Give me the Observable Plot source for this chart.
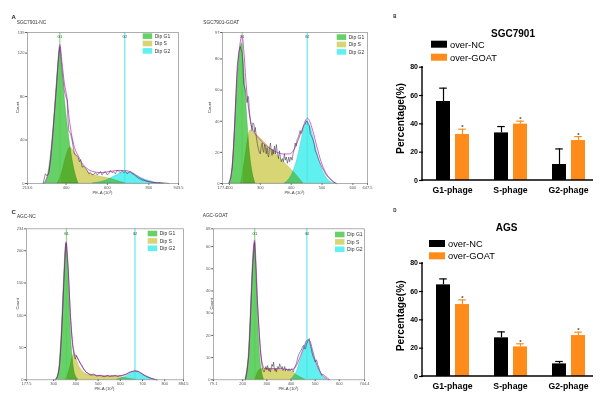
<!DOCTYPE html>
<html><head><meta charset="utf-8">
<script src="https://cdn.jsdelivr.net/npm/d3@7"></script>
<script src="https://cdn.jsdelivr.net/npm/@observablehq/plot@0.6"></script>
<style>
html,body{margin:0;padding:0;background:#fff;}
#fig{position:relative;width:603px;height:396px;overflow:hidden;background:#fff;}
</style></head>
<body><div id="fig"></div>
<script>
// ---------- DATA ----------
const legendLabels = ["Dip G1", "Dip S", "Dip G2"];
const markerLabels = ["G1", "G2"];

// Panel A: SGC7901-NC
const aXTicks = [213.6, 400, 600, 800, 943.5];
const aYTicks = [0, 40, 80, 120, 139];
const aMarkers = [370, 684];
const aHist = [[289,0],[300,9],[308,7],[317,10],[325,22],[333,40],[341,58],[349,77],[355,92],[360,107],[365,118],[370,126],[374,120],[378,110],[382,102],[386,95],[391,86],[397,81],[401,79],[405,77],[409,60],[413,49],[417,47],[421,46],[425,43],[429,40],[435,33],[441,27],[449,26],[457,25],[465,20],[471,22],[478,15],[486,16],[494,14],[502,12],[510,9],[518,10],[526,8],[534,8.5],[542,10],[550,8],[558,9],[566,11],[574,8],[582,10],[590,11],[598,8],[606,9],[614,12],[622,10],[630,10.8],[638,9],[646,12],[654,11.5],[662,10],[670,12],[679,10],[687,11],[695,9],[703,10],[711,11],[719,9],[727,8.6],[735,7],[743,6],[751,4.6],[760,4],[767,3],[775,3],[790,2],[807,1.5],[820,1],[840,0.6],[855,1],[872,0.6],[897,0]];
const aFit = [[290,0],[305,4],[320,14],[335,42],[350,82],[360,108],[370,128],[380,112],[392,92],[405,78],[415,60],[425,47],[441,33],[460,25],[480,18],[500,14],[530,11],[570,10],[610,11],[650,12],[684,12],[720,10],[750,6],[780,3],[820,1],[870,0]];
const aG1 = [[298,0],[315,10],[333,38],[349,76],[360,104],[370,124],[380,106],[392,82],[405,58],[421,34],[441,12],[460,0]];
const aS = [[360,0],[380,9],[400,24],[421,33],[440,29],[460,23],[480,17],[510,10],[540,7.5],[570,6],[600,5],[630,3.5],[660,1.5],[690,0]];
const aG2 = [[530,0],[560,1],[590,2.5],[620,5],[650,8],[684,10.5],[710,10],[740,7.5],[770,4.5],[800,2.5],[830,1],[860,0]];

// Panel A': SGC7901-GOAT
const apXTicks = [177.4, 200, 300, 400, 500, 600, 647.5];
const apYTicks = [0, 20, 40, 60, 80, 97];
const apMarkers = [241, 452];
const apHist = [[198,0],[204,4],[209,10],[213,22],[217,40],[221,58],[225,75],[230,84],[235,88],[238,86],[241,84],[244,75],[246,64],[249,62],[252,60],[255,54],[257,52],[260,56],[262,55],[264,48],[266,44],[270,38],[273,34],[276,39],[279,38],[282,33],[284,36],[287,30],[290,26],[294,22],[297,20],[300,19],[303,24],[306,26],[309,21],[311,20],[314,25],[316,24],[319,19],[322,23],[325,18],[327,17],[330,23],[333,26],[336,20],[338,18],[341,22],[343,19],[346,24],[349,19],[352,25],[355,20],[359,16],[362,21],[365,17],[368,14],[372,16],[375,14],[378,19],[381,15],[384,17],[388,13],[392,17],[395,14],[399,17],[403,15],[406,19],[410,22],[413,26],[416,24],[419,28],[424,30],[429,34],[432,32],[435,33],[440,37],[445,38],[449,40],[452,40],[455,38],[459,37],[462,32],[467,30],[471,28],[475,25],[478,21],[483,19],[488,16],[492,14],[496,12],[501,10],[507,8],[512,6],[516,5],[521,4],[526,3],[531,2],[537,1],[548,0]];
const apFit = [[198,0],[206,6],[215,30],[225,70],[233,88],[241,95],[247,84],[254,64],[262,48],[270,38],[280,33],[295,29],[315,25],[335,22],[355,20],[375,19],[395,19],[410,22],[425,29],[438,36],[448,41],[453,42],[460,40],[470,34],[483,24],[497,14],[512,7],[527,3],[545,0]];
const apG1 = [[200,0],[208,6],[215,24],[222,50],[230,75],[237,88],[241,90],[246,80],[252,60],[259,38],[266,20],[274,8],[284,0]];
const apS = [[238,0],[250,14],[260,28],[268,34],[280,33],[295,30],[315,26],[335,22],[355,18],[375,14],[395,10],[410,7],[425,3.5],[440,0]];
const apG2 = [[380,0],[395,3],[410,9],[422,17],[432,26],[442,35],[452,40],[462,37],[472,30],[483,21],[495,12],[508,6],[522,2],[540,0]];

// Panel C: AGC-NC
const cXTicks = [177.5, 300, 400, 500, 600, 700, 800, 884.5];
const cYTicks = [0, 50, 100, 150, 200, 234];
const cMarkers = [357, 666];
const cHist = [[308,0],[316,5],[322,12],[327,25],[330,40],[334,62],[338,89],[343,128],[348,166],[352,195],[356,212],[360,196],[365,171],[370,135],[375,99],[380,74],[385,53],[391,40],[397,32],[402,38],[405,36],[407,34],[411,31],[414,30],[418,27],[420,26],[424,24],[428,22],[431,20],[435,17],[440,15],[445,12],[451,11],[457,9],[463,8],[470,7],[477,9],[485,8],[492,6],[500,6],[507,7],[515,7],[522,5],[530,5],[537,6],[545,7],[552,5],[560,6],[567,6],[575,7],[582,6],[590,5],[597,6],[605,6],[613,7],[621,8],[628,9],[636,11],[644,12],[651,13],[658,13],[665,14],[674,13],[680,13],[685,12],[690,11],[696,10],[702,8],[708,7],[714,6],[719,5],[727,4],[735,3],[742,2],[749,1],[764,0]];
const cFit = [[308,0],[318,6],[326,22],[335,68],[345,150],[356,214],[365,175],[375,104],[385,58],[395,40],[405,35],[420,25],[440,14],[460,9],[490,7],[530,6],[570,6],[610,7],[635,10],[655,13],[670,14],[690,11],[710,7],[730,3.5],[750,1],[765,0]];
const cG1 = [[310,0],[318,5],[326,22],[334,62],[342,120],[349,175],[356,210],[362,188],[369,135],[376,82],[384,40],[392,15],[402,4],[412,0]];
const cS = [[355,0],[365,8],[375,20],[385,34],[393,40],[402,33],[412,23],[425,15],[440,10],[460,7],[490,6],[530,5],[570,5],[600,4],[625,2.5],[650,1],[670,0]];
const cG2 = [[585,0],[600,1.5],[615,3.5],[630,6],[645,9],[660,11.5],[670,12],[682,11],[695,8.5],[710,5.5],[725,3],[740,1.5],[760,0]];

// Panel C': AGC-GOAT
const cpXTicks = [79.1, 200, 300, 400, 500, 600, 704.4];
const cpYTicks = [0, 10, 20, 30, 40, 50, 60, 68];
const cpMarkers = [250, 466];
const cpHist = [[211,0],[218,4],[225,11],[230,22],[236,38],[242,52],[249,62],[254,52],[259,38],[264,29],[269,20],[274,12],[280,6.4],[285,4],[289,3.5],[293,5],[296,6],[300,4.5],[303,6.4],[308,4],[311,5],[314,3.5],[318,5],[321,7],[325,6],[328,8],[331,5],[334,4],[337,5],[339,3.5],[343,5],[346,6],[350,5],[353,7.2],[357,6],[360,5],[364,6],[367,4.2],[371,5],[374,6],[377,4],[380,5],[384,4.5],[388,4],[392,5],[396,4],[400,4.5],[403,5],[406,4],[410,3.5],[413,5],[417,6],[421,7],[424,8],[428,10],[431,11],[435,12],[438,12.6],[441,13],[445,14],[448,15],[452,15.5],[456,14],[460,14],[464,16],[468,17],[472,18],[476,18.6],[479,16],[481,15],[484,14],[486,12.6],[490,11],[493,10],[497,9],[500,8],[503,8.5],[506,9],[510,7],[513,6.4],[517,5],[520,4],[524,3],[527,2],[532,2.5],[537,2],[542,1.5],[548,1.2],[554,0.5],[561,0]];
const cpFit = [[211,0],[218,4],[225,12],[232,28],[240,50],[249,63],[256,50],[262,34],[268,22],[275,12],[282,7],[292,5],[320,5],[360,5],[395,4.5],[412,5],[425,7],[440,11],[455,15],[468,18],[478,17.5],[490,13],[503,8],[518,4],[535,1.5],[555,0]];
const cpG1 = [[211,0],[218,4],[225,11],[231,24],[237,40],[243,54],[249,61],[254,54],[259,40],[265,24],[271,12],[278,5],[288,0]];
const cpS = [[252,0],[262,3],[272,4.5],[290,5],[320,5],[350,4.5],[380,4],[405,3.5],[425,2],[445,0.8],[460,0]];
const cpG2 = [[400,0],[412,1.5],[425,4],[437,8],[448,12],[458,15.5],[468,17.5],[478,17],[488,14],[498,10],[510,6],[522,3],[535,1],[550,0]];

// Bar charts
const phases = ["G1-phage", "S-phage", "G2-phage"];
const groups = ["over-NC", "over-GOAT"];
const barYTicks = [0, 20, 40, 60, 80];
const sgcNC = [55.8, 33.6, 11.3];
const sgcNCsd = [9.4, 4.5, 11];
const sgcGOAT = [32.5, 39.8, 28.2];
const sgcGOATsd = [3.7, 2.1, 2.8];
const agsNC = [64.7, 27.3, 8.9];
const agsNCsd = [4.2, 4.2, 1.7];
const agsGOAT = [50.8, 20.9, 28.9];
const agsGOATsd = [3.3, 2.2, 2.4];

// ---------- DRAWING ----------
const FONT = '"Liberation Sans", Arial, Helvetica, sans-serif';
const COL = {g1: "#66d166", s: "#d8d574", g2: "#60f0f0", hist: "#3b2f4a", fit: "#c83cc8", frame: "#8c8c8c", nc: "#000000", goat: "#ff8c1a"};
const fig = document.getElementById("fig");
function place(svg, left, top) {
  svg.style.position = "absolute";
  svg.style.left = left + "px";
  svg.style.top = top + "px";
  svg.style.maxWidth = "none";
  fig.appendChild(svg);
}

function histPanel(cfg) {
  const P = a => a.map(([x, y]) => ({x, y}));
  const area = (d, fill, stroke) => Plot.areaY(P(d), {x: "x", y: "y", fill, stroke, strokeWidth: 0.4, mixBlendMode: "multiply", curve: "monotone-x"});
  const [mt, mr, mb, ml] = cfg.m;
  const svg = Plot.plot({
    width: cfg.w, height: cfg.h,
    marginTop: mt, marginRight: mr, marginBottom: mb, marginLeft: ml,
    style: {fontFamily: FONT, fontSize: "4px", color: "#555", background: "transparent", overflow: "visible"},
    x: {domain: cfg.xDomain, ticks: cfg.xTicks, tickFormat: d => String(d), tickSize: 1.8, tickPadding: 1, label: null},
    y: {domain: [0, cfg.yTop], ticks: cfg.yTicks, tickFormat: d => String(d), tickSize: 1.8, tickPadding: 1.2, label: null},
    marks: [
      area(cfg.s, COL.s, "#b5b14e"),
      area(cfg.g2, COL.g2, "#3cc6c6"),
      area(cfg.g1, COL.g1, "#3f9c3f"),
      Plot.ruleX([cfg.markers[0]], {stroke: "#52d052", strokeWidth: 0.8}),
      Plot.ruleX([cfg.markers[1]], {stroke: "#45e6e6", strokeWidth: 1}),
      Plot.text(cfg.markers, {x: d => d, text: (d, i) => markerLabels[i], frameAnchor: "top", dy: 3.5, fontSize: 3.4, fill: "#333"}),
      Plot.lineY(P(cfg.fit), {x: "x", y: "y", stroke: COL.fit, strokeWidth: 0.8, curve: "monotone-x"}),
      Plot.lineY(P(cfg.hist), {x: "x", y: "y", stroke: COL.hist, strokeWidth: 0.55}),
      Plot.frame({stroke: COL.frame, strokeWidth: 0.7})
    ]
  });
  const g = d3.select(svg).append("g").attr("font-family", FONT).attr("text-anchor", "start");
  const fl = ml, fr = cfg.w - mr, ft = mt, fb = cfg.h - mb;
  legendLabels.forEach((lab, i) => {
    const y = ft + cfg.lgDy + i * 7.4;
    g.append("rect").attr("x", fr - cfg.lgDx).attr("y", y).attr("width", 9.5).attr("height", 5.6).attr("fill", [COL.g1, COL.s, COL.g2][i]);
    g.append("text").attr("x", fr - cfg.lgDx + 12).attr("y", y + 4.4).attr("font-size", 5).attr("fill", "#333").text(lab);
  });
  g.append("text").attr("transform", `translate(${cfg.countX},${(ft + fb) / 2}) rotate(-90)`)
    .attr("text-anchor", "middle").attr("font-size", 4.3).attr("fill", "#444").text("Count");
  g.append("text").attr("x", (fl + fr) / 2).attr("y", fb + 10.8)
    .attr("text-anchor", "middle").attr("font-size", 4.3).attr("fill", "#444").text("PE-A (10³)");
  if (cfg.letter) g.append("text").attr("x", cfg.letterX).attr("y", cfg.letterY).attr("font-size", 6).attr("font-weight", "bold").attr("fill", "#222").text(cfg.letter);
  g.append("text").attr("x", cfg.titleX).attr("y", cfg.titleY).attr("font-size", 4.8).attr("fill", "#333").text(cfg.title);
  place(svg, cfg.left, cfg.top);
}

histPanel({left: 0, top: 0, w: 190, h: 196, m: [32, 12, 13, 27], xDomain: [213.6, 943.5], xTicks: aXTicks, yTop: 139, yTicks: aYTicks,
  hist: aHist, fit: aFit, g1: aG1, s: aS, g2: aG2, markers: aMarkers, lgDx: 35.3, lgDy: 1.3, countX: 18.8,
  letter: "A", letterX: 11.5, letterY: 18.5, title: "SGC7901-NC", titleX: 16.7, titleY: 23.5});
histPanel({left: 190, top: 0, w: 190, h: 196, m: [32, 13, 13, 32], xDomain: [177.4, 647.5], xTicks: apXTicks, yTop: 97, yTicks: apYTicks,
  hist: apHist, fit: apFit, g1: apG1, s: apS, g2: apG2, markers: apMarkers, lgDx: 30.3, lgDy: 2.3, countX: 20.8,
  title: "SGC7901-GOAT", titleX: 13.3, titleY: 24});
histPanel({left: 0, top: 196, w: 190, h: 200, m: [32.3, 7, 16.7, 26], xDomain: [177.5, 884.5], xTicks: cXTicks, yTop: 234, yTicks: cYTicks,
  hist: cHist, fit: cFit, g1: cG1, s: cS, g2: cG2, markers: cMarkers, lgDx: 35.3, lgDy: 2.4, countX: 18.8,
  letter: "C", letterX: 11.5, letterY: 18.3, title: "AGC-NC", titleX: 16.9, titleY: 21.7});
histPanel({left: 190, top: 196, w: 190, h: 200, m: [32.3, 16, 16.7, 23], xDomain: [79.1, 704.4], xTicks: cpXTicks, yTop: 68, yTicks: cpYTicks,
  hist: cpHist, fit: cpFit, g1: cpG1, s: cpS, g2: cpG2, markers: cpMarkers, lgDx: 29, lgDy: 3.4, countX: 22.5,
  title: "AGC-GOAT", titleX: 12.7, titleY: 21.3});

function barPanel(cfg) {
  const rows = phases.flatMap((p, i) => [
    {phase: p, group: groups[0], v: cfg.nc[i], sd: cfg.ncSd[i]},
    {phase: p, group: groups[1], v: cfg.goat[i], sd: cfg.goatSd[i]}]);
  const nc = rows.filter(d => d.group === groups[0]);
  const gt = rows.filter(d => d.group === groups[1]);
  const err = (data, color) => [
    Plot.ruleX(data, {fx: "phase", x: "group", y1: "v", y2: d => d.v + d.sd, stroke: color, strokeWidth: 1.2}),
    Plot.tickY(data, {fx: "phase", x: "group", y: d => d.v + d.sd, stroke: color, strokeWidth: 1.2, insetLeft: 3.2, insetRight: 3.2})
  ];
  const W = 213, H = 200, mt = 66.7, mb = 20, ml = 32, mr = 5.5;
  const svg = Plot.plot({
    width: W, height: H, marginTop: mt, marginBottom: mb, marginLeft: ml, marginRight: mr,
    style: {fontFamily: FONT, fontWeight: "bold", color: "#000", background: "transparent", overflow: "visible"},
    fx: {domain: phases, padding: 0, label: null},
    x: {domain: groups, axis: null, paddingInner: 0.285, paddingOuter: 0.6},
    y: {domain: [0, 80], label: null},
    marks: [
      ...err(nc, COL.nc),
      ...err(gt, COL.goat),
      Plot.barY(nc, {fx: "phase", x: "group", y: "v", fill: COL.nc}),
      Plot.barY(gt, {fx: "phase", x: "group", y: "v", fill: COL.goat}),
      Plot.text(gt, {fx: "phase", x: "group", y: d => d.v + d.sd, text: () => "*", dy: -2, fontSize: 6, fill: "#444"}),
      Plot.axisY({ticks: barYTicks, tickSize: 4, tickPadding: 1.5, fontSize: 7, fontWeight: "bold", stroke: "#000", strokeWidth: 1.2, label: null}),
      Plot.axisFx({anchor: "bottom", tickSize: 0, tickPadding: 6, fontSize: 8.7, fontWeight: "bold", label: null})
    ]
  });
  const g = d3.select(svg).append("g").attr("font-family", FONT).attr("text-anchor", "start");
  g.append("line").attr("x1", ml).attr("x2", ml).attr("y1", mt - 0.6).attr("y2", H - mb + 0.7).attr("stroke", "#000").attr("stroke-width", 1.4);
  g.append("line").attr("x1", ml - 0.7).attr("x2", 203).attr("y1", H - mb).attr("y2", H - mb).attr("stroke", "#000").attr("stroke-width", 1.4);
  g.append("text").attr("transform", `translate(13.5,${cfg.ylabY}) rotate(-90)`).attr("text-anchor", "middle")
    .attr("font-size", 10.2).attr("font-weight", "bold").text("Percentage(%)");
  g.append("text").attr("x", cfg.titleX).attr("y", cfg.titleY).attr("text-anchor", "middle")
    .attr("font-size", 10).attr("font-weight", "bold").text(cfg.title);
  g.append("text").attr("x", 3.3).attr("y", cfg.letterY).attr("font-size", 4.5).attr("font-weight", "bold").attr("fill", "#222").text(cfg.letter);
  groups.forEach((name, i) => {
    const y = cfg.lgY[i];
    g.append("rect").attr("x", cfg.lgX).attr("y", y).attr("width", 16).attr("height", 7).attr("fill", [COL.nc, COL.goat][i]);
    g.append("text").attr("x", cfg.lgX + 19).attr("y", y + 6.8).attr("font-size", 9.3).attr("font-weight", "normal").text(name);
  });
  place(svg, 390, cfg.top);
}

barPanel({top: 0, nc: sgcNC, ncSd: sgcNCsd, goat: sgcGOAT, goatSd: sgcGOATsd, title: "SGC7901", titleX: 123, titleY: 37,
  letter: "B", letterY: 17.5, ylabY: 118.5, lgX: 41, lgY: [40.7, 53.7]});
barPanel({top: 196, nc: agsNC, ncSd: agsNCsd, goat: agsGOAT, goatSd: agsGOATsd, title: "AGS", titleX: 116.7, titleY: 35,
  letter: "D", letterY: 15.7, ylabY: 119.8, lgX: 39, lgY: [44, 56.3]});
</script></body></html>
